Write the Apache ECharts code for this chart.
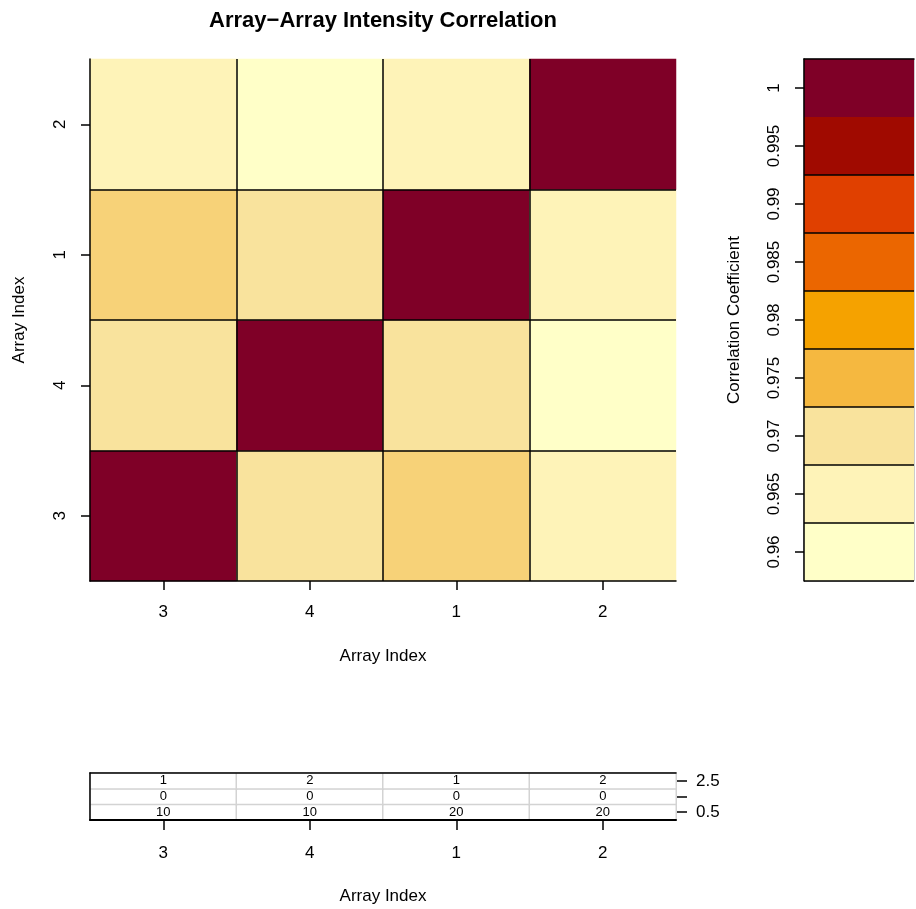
<!DOCTYPE html>
<html>
<head>
<meta charset="utf-8">
<script src="https://cdn.jsdelivr.net/npm/echarts@6/dist/echarts.min.js"></script>
<style>
html,body{margin:0;padding:0;background:#fff;}
#chart{width:916px;height:909px;}
</style>
</head>
<body>
<div id="chart"></div>
<script>
// ---- data ----
const arrayCategories = ['3', '4', '1', '2'];           // x (left->right) and y (bottom->top)
const corrRows = [                                        // rows bottom->top, cols left->right
  [1.000, 0.970, 0.972, 0.965],   // array 3
  [0.970, 1.000, 0.970, 0.960],   // array 4
  [0.972, 0.970, 1.000, 0.965],   // array 1
  [0.965, 0.960, 0.965, 1.000]    // array 2
];
const colorBreaks = [0.9575, 0.9625, 0.9675, 0.9725, 0.9775, 0.9825, 0.9875, 0.9925, 0.9975, 1.0025];
const colorBins = ['#FFFFC8', '#FEF3B8', '#F9E39D', '#F5B840', '#F5A200', '#EB6600', '#E04000', '#A00A00', '#7F0027'];
const colorTicks = [0.96, 0.965, 0.97, 0.975, 0.98, 0.985, 0.99, 0.995, 1];
const tableRowLabels = ['0.5', '1.5', '2.5'];
const tableRows = [                                       // rows bottom->top
  ['10', '10', '20', '20'],
  ['0', '0', '0', '0'],
  ['1', '2', '1', '2']
];

// ---- build ----
const heatData = [];
corrRows.forEach((row, yi) => row.forEach((v, xi) => heatData.push([xi, yi, v])));
const tableData = [];
tableRows.forEach((row, yi) => row.forEach((v, xi) => tableData.push([xi, yi, v])));
const barData = colorBins.map((c, i) => [0, colorBreaks[i], colorBreaks[i + 1], i]);

const FONT = "'Liberation Sans', Arial, Helvetica, sans-serif";
const txt = {color: '#000', fontFamily: FONT, fontSize: 17};
const blackLine = {show: true, lineStyle: {color: '#000', width: 1.5}};
const frameAxis = {axisLine: blackLine, axisTick: {show: false}, axisLabel: {show: false}, splitLine: {show: false}, z: 10};

const chart = echarts.init(document.getElementById('chart'), null, {renderer: 'canvas'});
chart.setOption({
  animation: false,
  backgroundColor: '#fff',
  textStyle: {fontFamily: FONT},
  title: {
    text: 'Array\u2212Array Intensity Correlation',
    left: 378, top: 5, textAlign: 'center',
    textStyle: {fontFamily: FONT, fontSize: 22, fontWeight: 'bold', color: '#000'}
  },
  grid: [
    {left: 90, top: 59, width: 586, height: 522},
    {left: 804, top: 59, width: 110, height: 522, show: true, borderColor: '#9a9a9a', borderWidth: 1},
    {left: 90, top: 773, width: 586, height: 47}
  ],
  visualMap: {
    show: false, type: 'continuous', seriesIndex: 0,
    min: 0.96, max: 1.0, inRange: {color: colorBins}
  },
  xAxis: [
    {
      gridIndex: 0, type: 'category', data: arrayCategories, z: 10,
      name: 'Array Index', nameLocation: 'middle', nameGap: 67, nameTextStyle: txt,
      axisLine: blackLine,
      axisTick: {show: true, alignWithLabel: true, length: 9, lineStyle: {color: '#000', width: 1.5}},
      axisLabel: Object.assign({margin: 23}, txt),
      splitLine: {show: true, showMinLine: false, showMaxLine: false, lineStyle: {color: '#000', width: 1.5}}
    },
    {gridIndex: 1, type: 'value', min: 0, max: 1, show: false},
    {
      gridIndex: 2, type: 'category', data: arrayCategories, z: 10,
      name: 'Array Index', nameLocation: 'middle', nameGap: 68, nameTextStyle: txt,
      axisLine: {show: true, lineStyle: {color: '#000', width: 2}},
      axisTick: {show: true, alignWithLabel: true, length: 10, lineStyle: {color: '#000', width: 1.5}},
      axisLabel: Object.assign({margin: 25}, txt),
      splitLine: {show: false}
    },
    Object.assign({gridIndex: 2, type: 'category', data: arrayCategories, position: 'top'}, frameAxis),
    Object.assign({gridIndex: 1, type: 'value', min: 0, max: 1, position: 'top'}, frameAxis)
  ],
  yAxis: [
    {
      gridIndex: 0, type: 'category', data: arrayCategories, z: 10,
      name: 'Array Index', nameLocation: 'middle', nameGap: 62, nameTextStyle: txt,
      axisLine: blackLine,
      axisTick: {show: true, alignWithLabel: true, length: 9, lineStyle: {color: '#000', width: 1.5}},
      axisLabel: Object.assign({margin: 21, rotate: 90}, txt),
      splitLine: {show: true, showMinLine: false, showMaxLine: false, lineStyle: {color: '#000', width: 1.5}}
    },
    {
      gridIndex: 1, type: 'value', min: 0.9575, max: 1.0025, position: 'left', z: 10,
      name: 'Correlation Coefficient', nameLocation: 'middle', nameGap: 61, nameTextStyle: txt,
      axisLine: blackLine,
      axisTick: {show: true, length: 9, customValues: colorTicks, lineStyle: {color: '#000', width: 1.5}},
      axisLabel: Object.assign({margin: 21, rotate: 90, customValues: colorTicks,
        formatter: v => String(+(+v).toFixed(3))}, txt),
      splitLine: {show: false}
    },
    {
      gridIndex: 2, type: 'category', data: tableRowLabels, position: 'right',
      axisLine: {show: false},
      axisTick: {show: true, alignWithLabel: true, length: 11, lineStyle: {color: '#000', width: 1.5}},
      axisLabel: Object.assign({margin: 20, interval: 0,
        formatter: v => (v === '1.5' ? '' : v)}, txt),
      splitLine: {show: false}
    },
    Object.assign({gridIndex: 2, type: 'category', data: tableRowLabels, position: 'left'}, frameAxis)
  ],
  series: [
    {
      type: 'heatmap', xAxisIndex: 0, yAxisIndex: 0, data: heatData, z: 2,
      itemStyle: {borderWidth: 0}, emphasis: {disabled: true}
    },
    {
      type: 'custom', xAxisIndex: 1, yAxisIndex: 1, data: barData, z: 2,
      renderItem: function (params, api) {
        const lo = api.value(1), hi = api.value(2), i = api.value(3);
        const p0 = api.coord([0, lo]);
        const p1 = api.coord([1, hi]);
        const children = [{
          type: 'rect',
          shape: {x: p0[0], y: p1[1], width: p1[0] - p0[0], height: p0[1] - p1[1]},
          style: {fill: colorBins[i]}
        }];
        if (i < colorBins.length - 1) {
          children.push({
            type: 'line',
            shape: {x1: p0[0], y1: p0[1], x2: p1[0], y2: p0[1]},
            style: {stroke: '#000', lineWidth: 1.5}
          });
        }
        return {type: 'group', children: children};
      }
    },
    {
      type: 'heatmap', xAxisIndex: 2, yAxisIndex: 2, data: tableData, z: 2,
      itemStyle: {color: '#fff', borderColor: '#D3D3D3', borderWidth: 1.5},
      label: {show: true, color: '#000', fontFamily: FONT, fontSize: 13,
        formatter: p => p.value[2]},
      emphasis: {disabled: true}
    }
  ]
});
</script>
</body>
</html>
